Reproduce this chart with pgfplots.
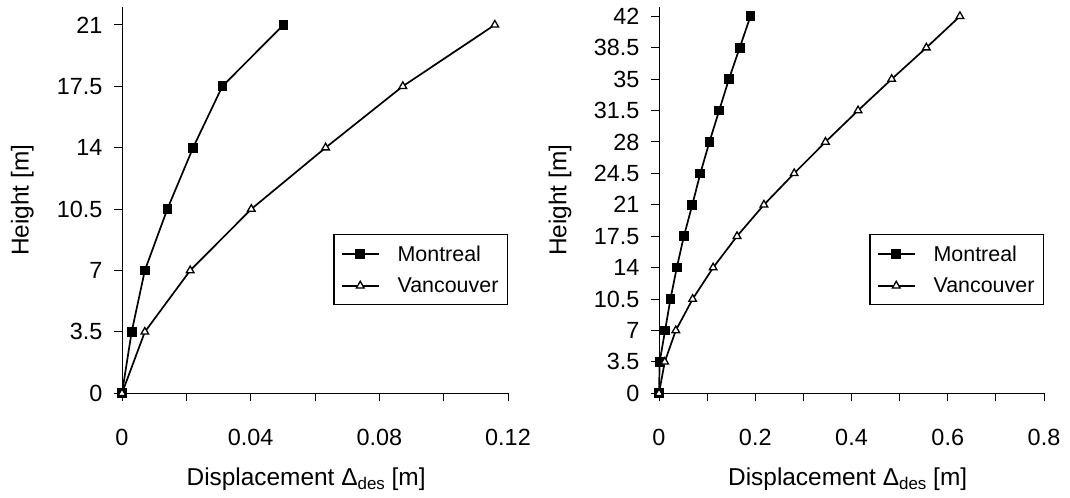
\documentclass[border=0pt]{standalone}
\usepackage{fontspec}
\setmainfont{Liberation Sans}
\usepackage{pgfplots}
\pgfplotsset{compat=1.18}

% Design displacement profiles (height vs. displacement)
\pgfplotsset{
  dispaxis/.style={
    scale only axis, width=386bp, height=386bp,
    axis lines=left, axis line style={-, black, line width=1bp},
    tick align=outside, major tick length=8bp, minor tick length=8bp,
    every tick/.style={black, line width=1bp},
    xmin=0, ymin=0, clip=false,
    /pgf/number format/assume math mode=true,
    tick label style={font=\fontsize{23.5}{25}\selectfont},
    xticklabel style={yshift=-24bp},
    yticklabel style={xshift=-8bp},
    label style={font=\fontsize{24.5}{26}\selectfont},
    ylabel={Height [m]},
    xlabel={Displacement \char"0394\raisebox{-4bp}{\fontsize{17}{17}\selectfont des} [m]},
    legend style={at={(1,0.4127)}, anchor=north east, draw=black, line width=1.2bp,
      font=\fontsize{21.5}{24}\selectfont, inner xsep=7bp, inner ysep=9bp,
      row sep=11bp},
    legend cell align=left,
    legend image code/.code={\draw[mark repeat=2,mark phase=2,#1]
      plot coordinates {(0bp,0bp) (18.5bp,0bp) (37bp,0bp)};},
  },
  montreal/.style={black, line width=1.7bp, mark=square*, mark size=4bp,
    mark options={solid, fill=black}},
  vancouver/.style={black, line width=1.7bp, mark=triangle*, mark size=4.4bp,
    mark options={solid, fill=white, line width=1.3bp}},
}

\begin{document}
\begin{tikzpicture}
\useasboundingbox (0,0) rectangle (1070bp,498bp);

% 6-storey building
\begin{axis}[dispaxis, at={(122bp,104.7bp)}, anchor=south west,
  xmax=0.12, ymax=22,
  xtick={0,0.02,0.04,0.06,0.08,0.10,0.12},
  xticklabels={0,{},0.04,{},0.08,{},0.12},
  ytick={0,3.5,7,10.5,14,17.5,21},
  yticklabels={0,3.5,7,10.5,14,17.5,21},
  ylabel style={at={(axis description cs:-0.258,0.5)}, anchor=center},
  xlabel style={at={(axis description cs:0.477,-0.24)}, anchor=base},
]
\addplot[montreal] coordinates {
  (0,0) (0.0030,3.5) (0.0071,7) (0.0141,10.5) (0.0221,14) (0.0312,17.5) (0.0502,21)};
\addlegendentry{\hspace{16bp}Montreal}
\addplot[vancouver] coordinates {
  (0,0) (0.0071,3.5) (0.0212,7) (0.0402,10.5) (0.0633,14) (0.0873,17.5) (0.1159,21)};
\addlegendentry{\hspace{16bp}Vancouver}
\end{axis}

% 12-storey building
\begin{axis}[dispaxis, at={(659bp,104.7bp)}, anchor=south west, width=385bp,
  xmax=0.8, ymax=43,
  xtick={0,0.1,0.2,0.3,0.4,0.5,0.6,0.7,0.8},
  xticklabels={0,{},0.2,{},0.4,{},0.6,{},0.8},
  ytick={0,3.5,7,10.5,14,17.5,21,24.5,28,31.5,35,38.5,42},
  yticklabels={0,3.5,7,10.5,14,17.5,21,24.5,28,31.5,35,38.5,42},
  ylabel style={at={(axis description cs:-0.257,0.5)}, anchor=center},
  xlabel style={at={(axis description cs:0.49,-0.24)}, anchor=base},
]
\addplot[montreal] coordinates {
  (0,0) (0.0014,3.5) (0.0126,7) (0.0238,10.5) (0.0370,14) (0.0517,17.5) (0.0692,21)
  (0.0859,24.5) (0.1048,28) (0.1250,31.5) (0.1453,35) (0.1677,38.5) (0.1900,42)};
\addlegendentry{\hspace{16bp}Montreal}
\addplot[vancouver] coordinates {
  (0,0) (0.0119,3.5) (0.0349,7) (0.0699,10.5) (0.1125,14) (0.1621,17.5) (0.2180,21)
  (0.2809,24.5) (0.3459,28) (0.4136,31.5) (0.4835,35) (0.5555,38.5) (0.6253,42)};
\addlegendentry{\hspace{16bp}Vancouver}
\end{axis}
\end{tikzpicture}
\end{document}
